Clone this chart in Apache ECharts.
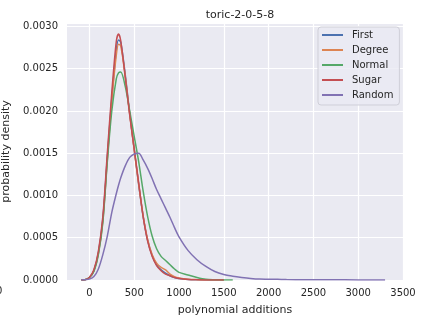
<!DOCTYPE html>
<html>
<head>
<meta charset="utf-8">
<script src="https://cdn.jsdelivr.net/npm/echarts@6/dist/echarts.min.js"></script>
<style>html,body{margin:0;padding:0;background:#fff}#c{width:423px;height:322px}</style>
</head>
<body>
<div id="c"></div>
<script>
var title = 'toric-2-0-5-8';
var xName = 'polynomial additions';
var yName = 'probability density';
var seriesNames = ['First', 'Degree', 'Normal', 'Sugar', 'Random'];
var xGrid = [-90,-50,0,50,100,150,200,250,300,325,350,400,450,500,550,600,650,700,750,800,850,900,950,1000,1100,1200,1300,1400,1500,1600,1700,1800,1900,2000,2100,2200,2400,2700,3000,3300];
var first  = [0,0.000003,0.00003,0.00011,0.00032,0.00072,0.00145,0.00215,0.00272,0.00284,0.00281,0.00243,0.00197,0.00155,0.00113,0.00075,0.00047,0.00029,0.00018,0.00012,0.00008,0.00005,0.00003,0.000017,0.000006,0.000002,0.0000005,0,0,null,null,null,null,null,null,null,null,null,null,null];
var degree = [0,0.000003,0.00003,0.00011,0.00031,0.0007,0.00142,0.00212,0.00266,0.00279,0.00277,0.00241,0.00196,0.00154,0.00113,0.00076,0.00048,0.0003,0.0002,0.00015,0.00012,0.00007,0.00004,0.000025,0.00001,0.000004,0.000001,0,0,null,null,null,null,null,null,null,null,null,null,null];
var normal = [0,0.000003,0.00003,0.0001,0.0003,0.00068,0.0014,0.002,0.00238,0.00245,0.00246,0.00229,0.002,0.0017,0.0014,0.00105,0.00075,0.00052,0.00037,0.00028,0.00023,0.00018,0.00013,0.00009,0.00006,0.00003,0.000008,0.000003,0.000001,0,null,null,null,null,null,null,null,null,null,null];
var sugar  = [0,0.000003,0.00003,0.00012,0.00034,0.00075,0.0015,0.00222,0.00282,0.00291,0.00283,0.0024,0.00195,0.00155,0.00115,0.00075,0.00046,0.00028,0.00017,0.00011,0.00007,0.00005,0.00003,0.000018,0.000006,0.000002,0.0000005,0,0,null,null,null,null,null,null,null,null,null,null,null];
var random = [0,0.000002,0.00001,0.00004,0.00013,0.0003,0.00052,0.0008,0.00102,0.00112,0.00121,0.00135,0.00145,0.00149,0.0015,0.00142,0.00132,0.0012,0.00107,0.00096,0.00085,0.00074,0.00062,0.00051,0.00035,0.00024,0.00016,0.0001,0.000065,0.000045,0.00003,0.000018,0.000011,0.00001,0.000008,0.000005,0.000003,0.000002,0.000001,0];
var colors = ['#4c72b0', '#dd8452', '#55a868', '#c44e52', '#8172b3'];

var allY = [first, degree, normal, sugar, random];
function pairs(ys) { return xGrid.map(function (x, i) { return [x, ys[i]]; }); }

var font = 'DejaVu Sans';
var txt = '#262626';
var chart = echarts.init(document.getElementById('c'), null, {renderer: 'canvas'});
chart.setOption({
  backgroundColor: '#ffffff',
  animation: false,
  color: colors,
  title: {
    text: title, left: 235, top: 5, textAlign: 'center',
    textStyle: {fontFamily: font, fontSize: 11, fontWeight: 'normal', color: txt}
  },
  grid: {left: 67, right: 20, top: 23, bottom: 42, containLabel: false, outerBoundsMode: 'none',
         show: true, backgroundColor: '#eaeaf2', borderWidth: 0},
  legend: {
    orient: 'vertical', left: 318, top: 27, selectedMode: false,
    icon: 'rect', itemWidth: 21, itemHeight: 2, itemGap: 3,
    padding: [2, 6, 4, 4],
    backgroundColor: 'rgba(234,234,242,0.8)', borderColor: '#cfcfd8', borderWidth: 1, borderRadius: 3,
    textStyle: {fontFamily: font, fontSize: 10, color: txt, lineHeight: 12, padding: [0, 0, 0, 4]},
    data: seriesNames
  },
  xAxis: {
    type: 'value', min: -250, max: 3500, interval: 250,
    name: xName, nameLocation: 'middle', nameGap: 25,
    nameTextStyle: {fontFamily: font, fontSize: 11, color: txt},
    axisLine: {show: false}, axisTick: {show: false},
    axisLabel: {
      fontFamily: font, fontSize: 10, color: txt, margin: 8,
      showMinLabel: true, showMaxLabel: true, hideOverlap: false,
      formatter: function (v) { return (Math.round(v) % 500 === 0) ? String(v) : ''; }
    },
    splitLine: {show: true, lineStyle: {color: ['rgba(0,0,0,0)', '#ffffff'], width: 1.2}}
  },
  yAxis: {
    type: 'value', min: 0, max: 0.00304, interval: 0.0005,
    name: yName, nameLocation: 'middle', nameGap: 48,
    nameTextStyle: {fontFamily: font, fontSize: 11, color: txt},
    axisLine: {show: false}, axisTick: {show: false},
    axisLabel: {
      fontFamily: font, fontSize: 10, color: txt, margin: 9,
      formatter: function (v) {
        var k = v / 0.0005;
        return Math.abs(k - Math.round(k)) < 1e-6 ? v.toFixed(4) : '';
      }
    },
    splitLine: {show: true, lineStyle: {color: '#ffffff', width: 1.2}}
  },
  graphic: [{
    type: 'text', left: -4, top: 286,
    style: {text: '0', fontFamily: font, fontSize: 10, fill: txt}
  }],
  series: seriesNames.map(function (n, i) {
    return {
      name: n, type: 'line', data: pairs(allY[i]), smooth: 0.3,
      symbol: 'none', showSymbol: false, connectNulls: false,
      lineStyle: {width: 1.5, color: colors[i]}, z: 2 + i
    };
  })
});
</script>
</body>
</html>
